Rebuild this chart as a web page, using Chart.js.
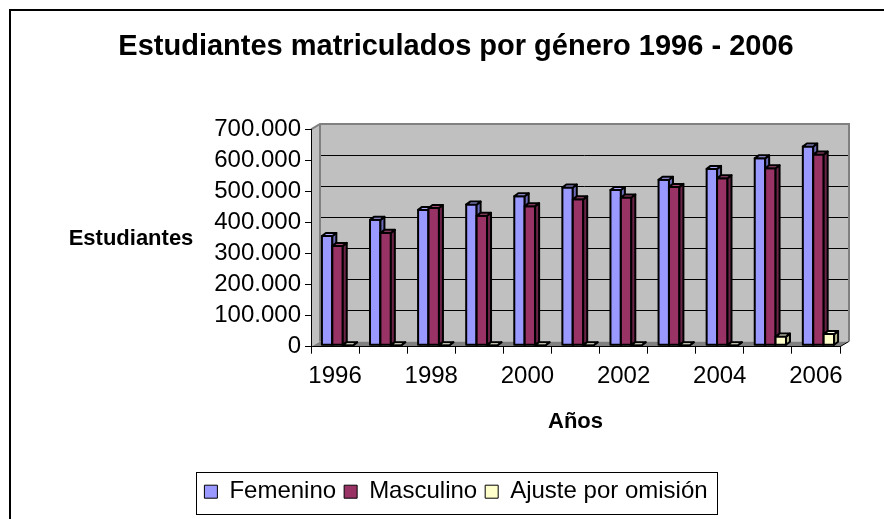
<!DOCTYPE html>
<html>
<head>
<meta charset="utf-8">
<script src="https://cdn.jsdelivr.net/npm/chart.js@4.4.1/dist/chart.umd.min.js"></script>
<style>
  html, body { margin: 0; padding: 0; background: #fff; }
</style>
</head>
<body>
<canvas id="chart" width="884" height="519"></canvas>
<script>
const years = ['1996', '1997', '1998', '1999', '2000', '2001', '2002', '2003', '2004', '2005', '2006']
const femenino = [352000, 404000, 436000, 453000, 480000, 508000, 500000, 533000, 568000, 602000, 640000]
const masculino = [320000, 362000, 442000, 417000, 448000, 470000, 476000, 510000, 538000, 570000, 614000]
const ajuste = [0, 0, 0, 0, 0, 0, 0, 0, 0, 28000, 36000]
const yMax = 700000
const yTickCount = 8

const FONT = 'Liberation Sans, Arial, sans-serif'
// depth of the walls and of each bar, for the 3d look
const DX = 9, DY = -5.3
const SX = 2.5, SY = -1.4
const BX = 4, BY = -3
const sideColors = ['#6b6bb8', '#6b2447', '#b8b890']
const topColors = ['#aaaaff', '#a84a78', '#ffffe6']

const fmt = v => String(v).replace(/\B(?=(\d{3})+(?!\d))/g, '.')

function face (ctx, pts, color) {
  ctx.beginPath()
  ctx.moveTo(pts[0][0], pts[0][1])
  pts.slice(1).forEach(p => ctx.lineTo(p[0], p[1]))
  ctx.closePath()
  ctx.fillStyle = color
  ctx.fill()
  ctx.stroke()
}

const wallPlugin = {
  id: 'wall',
  beforeDraw (chart) {
    const { ctx, chartArea: { left, right, top, bottom } } = chart
    const y = chart.scales.y
    ctx.save()
    ctx.strokeStyle = '#000'
    ctx.lineWidth = 2
    ctx.strokeRect(10, 10, 900, 540)

    ctx.fillStyle = '#c0c0c0'
    ctx.fillRect(left + DX, top + DY, right - left, bottom - top)
    ctx.beginPath()
    ctx.moveTo(left, top)
    ctx.lineTo(left + DX, top + DY)
    ctx.lineTo(left + DX, bottom + DY)
    ctx.lineTo(left, bottom)
    ctx.closePath()
    ctx.fill()

    ctx.strokeStyle = '#000'
    ctx.lineWidth = 1
    ctx.beginPath()
    y.ticks.forEach(t => {
      if (t.value === 0 || t.value === yMax) return
      const py = Math.round(y.getPixelForValue(t.value) + DY) + 0.5
      ctx.moveTo(left + DX, py)
      ctx.lineTo(right + DX, py)
    })
    ctx.stroke()

    ctx.fillStyle = '#808080'
    ctx.beginPath()
    ctx.moveTo(left, bottom)
    ctx.lineTo(right, bottom)
    ctx.lineTo(right + DX, bottom + DY)
    ctx.lineTo(left + DX, bottom + DY)
    ctx.closePath()
    ctx.fill()
    ctx.strokeStyle = '#000'
    ctx.beginPath()
    ctx.moveTo(right, bottom)
    ctx.lineTo(right + DX, bottom + DY)
    ctx.stroke()

    ctx.strokeStyle = '#808080'
    ctx.lineWidth = 2
    ctx.beginPath()
    ctx.moveTo(left, top)
    ctx.lineTo(left + DX, top + DY)
    ctx.lineTo(right + DX, top + DY)
    ctx.lineTo(right + DX, bottom + DY)
    ctx.moveTo(left + DX, top + DY)
    ctx.lineTo(left + DX, bottom + DY)
    ctx.stroke()
    ctx.restore()
  }
}

const barsPlugin = {
  id: 'bars3d',
  beforeDatasetsDraw (chart) {
    const { ctx } = chart
    const metas = chart.data.datasets.map((d, i) => chart.getDatasetMeta(i))
    ctx.save()
    ctx.strokeStyle = '#000'
    ctx.lineWidth = 2
    ctx.lineJoin = 'round'
    years.forEach((_, j) => {
      metas.forEach((meta, i) => {
        const bar = meta.data[j]
        const l = bar.x - bar.width / 2 + SX
        const r = bar.x + bar.width / 2 + SX
        const t = bar.y + SY
        const b = bar.base + SY
        face(ctx, [[l, b], [l, t], [r, t], [r, b]], chart.data.datasets[i].backgroundColor)
        face(ctx, [[r, b], [r, t], [r + BX, t + BY], [r + BX, b + BY]], sideColors[i])
        face(ctx, [[l, t], [l + BX, t + BY], [r + BX, t + BY], [r, t]], topColors[i])
      })
    })
    ctx.restore()
    return false
  }
}

const labelsPlugin = {
  id: 'extraLabels',
  afterDraw (chart) {
    const { ctx } = chart
    ctx.save()
    ctx.font = 'bold 22px ' + FONT
    ctx.fillStyle = '#000'
    ctx.textAlign = 'center'
    ctx.textBaseline = 'middle'
    ctx.fillText('Estudiantes', 131, 239)

    const lg = chart.legend
    const hb = lg.legendHitBoxes
    const x0 = hb[0].left - 8
    const x1 = hb[hb.length - 1].left + hb[hb.length - 1].width + 10
    ctx.strokeStyle = '#000'
    ctx.lineWidth = 1
    ctx.strokeRect(Math.round(x0) + 0.5, Math.round(lg.top) + 0.5, Math.round(x1 - x0), Math.round(lg.height))
    ctx.restore()
  }
}

new Chart(document.getElementById('chart'), {
  type: 'bar',
  data: {
    labels: years,
    datasets: [
      { label: 'Femenino', data: femenino, backgroundColor: '#9999ff', borderColor: '#000', borderWidth: 1 },
      { label: 'Masculino', data: masculino, backgroundColor: '#993366', borderColor: '#000', borderWidth: 1 },
      { label: 'Ajuste por omisión', data: ajuste, backgroundColor: '#ffffcc', borderColor: '#000', borderWidth: 1 }
    ]
  },
  options: {
    responsive: false,
    animation: false,
    devicePixelRatio: 1,
    layout: { padding: { left: 72, right: 44, top: 0, bottom: 5.3 } },
    datasets: { bar: { categoryPercentage: 0.65, barPercentage: 1 } },
    plugins: {
      title: {
        display: true,
        text: 'Estudiantes matriculados por género 1996 - 2006',
        color: '#000',
        font: { family: FONT, size: 29, weight: 'bold' },
        padding: { top: 30, bottom: 64.5 }
      },
      legend: {
        position: 'bottom',
        labels: {
          color: '#000',
          font: { family: FONT, size: 24 },
          boxWidth: 13,
          boxHeight: 13,
          padding: 8
        }
      },
      tooltip: { enabled: false }
    },
    scales: {
      x: {
        afterFit: s => { s.height = 125 },
        grid: { offset: true, drawOnChartArea: false, drawTicks: true, tickLength: 7, color: '#000' },
        border: { color: '#000', width: 1 },
        ticks: {
          color: '#000',
          font: { family: FONT, size: 24 },
          padding: 8,
          autoSkip: false,
          maxRotation: 0,
          callback: (v, i) => i % 2 === 0 ? years[i] : ''
        },
        title: {
          display: true,
          text: 'Años',
          color: '#000',
          font: { family: FONT, size: 22, weight: 'bold' },
          padding: { top: 0, bottom: 36.5 }
        }
      },
      y: {
        min: 0,
        max: yMax,
        afterFit: s => { s.width = 239 },
        grid: { drawOnChartArea: false, drawTicks: true, tickLength: 6, color: '#000' },
        border: { color: '#000', width: 1 },
        ticks: {
          count: yTickCount,
          autoSkip: false,
          color: '#000',
          font: { family: FONT, size: 24 },
          padding: 4,
          callback: v => fmt(v)
        }
      }
    }
  },
  plugins: [wallPlugin, barsPlugin, labelsPlugin]
})
</script>
</body>
</html>
